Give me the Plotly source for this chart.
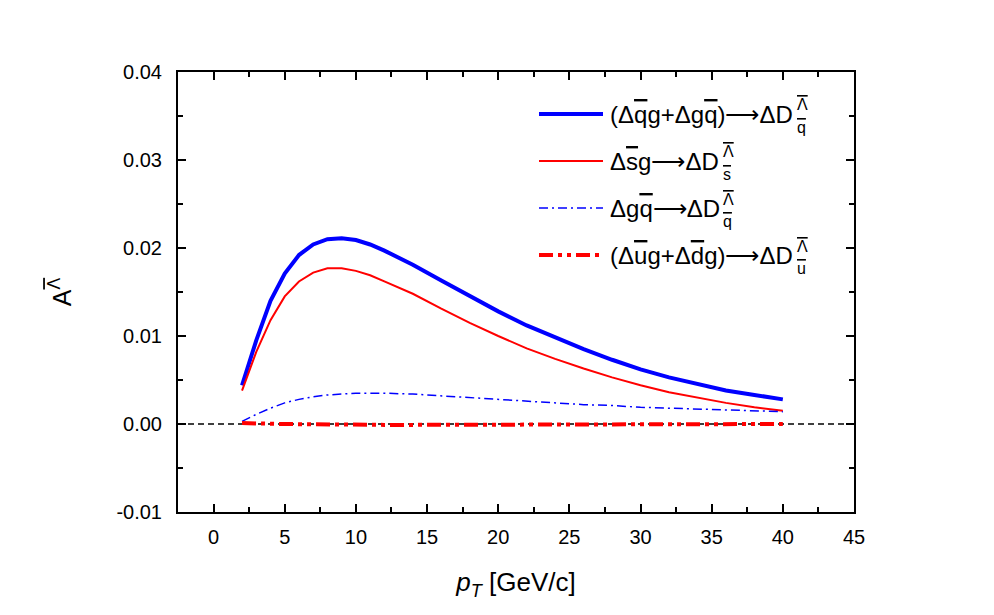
import plotly.graph_objects as go

pt = [2, 3, 4, 5, 6, 7, 8, 9, 10, 11, 12, 14, 16, 18, 20, 22, 24, 26, 28, 30, 32, 34, 36, 38, 40]
total_qg = [0.0044, 0.0095, 0.0140, 0.0171, 0.0192, 0.0204, 0.0210, 0.0211, 0.0209, 0.0204, 0.0197,
            0.0181, 0.0163, 0.0145, 0.0128, 0.0112, 0.0098, 0.0085, 0.0073, 0.0062, 0.0053, 0.0045,
            0.0038, 0.0033, 0.0028]
sbar_g = [0.0038, 0.0082, 0.0118, 0.0145, 0.0162, 0.0172, 0.0177, 0.0177, 0.0174, 0.0169, 0.0162,
          0.0148, 0.0131, 0.0115, 0.0100, 0.0086, 0.0074, 0.0063, 0.0053, 0.0044, 0.0036, 0.0030,
          0.0024, 0.0019, 0.0015]
g_qbar = [0.0003, 0.0011, 0.0018, 0.0024, 0.0028, 0.0031, 0.0033, 0.0034, 0.0035, 0.0035, 0.0035,
          0.0034, 0.0032, 0.0030, 0.0028, 0.0026, 0.0024, 0.0022, 0.0021, 0.0019, 0.0018, 0.0017,
          0.0016, 0.0015, 0.0014]
ud_g = [0.0001, 0.0001, 0.00005, 0.0, -0.00002, -0.00005, -0.00008, -0.0001, -0.0001, -0.0001, -0.0001,
        -0.0001, -0.0001, -0.00009, -0.00008, -0.00007, -0.00005, -0.00004, -0.00003, -0.00002, -0.00001,
        0.0, 0.0, 0.0, 0.0]

y_ticks = [-0.01, 0.0, 0.01, 0.02, 0.03, 0.04]
y_ticktext = ["-0.01", "0.00", "0.01", "0.02", "0.03", "0.04"]
x_ticks = [0, 5, 10, 15, 20, 25, 30, 35, 40, 45]

OL = lambda s: '<span style="text-decoration:overline">' + s + '</span>'
ARROW = "⟶"

series = [
    (total_qg, "#0000ff", 4, "solid"),
    (sbar_g, "#ff0000", 2, "solid"),
    (g_qbar, "#0000ff", 1.5, "9px,4px,2px,4px"),
    (ud_g, "#ff0000", 4, "14px,5px,4px,5px,4px,5px"),
]

fig = go.Figure()
for ys, col, w, dash in series:
    fig.add_trace(go.Scatter(x=pt, y=ys, mode="lines", line=dict(color=col, width=w, dash=dash),
                             showlegend=False, hoverinfo="skip"))

# zero line
fig.add_shape(type="line", xref="paper", yref="y", x0=0, x1=1, y0=0, y1=0,
              line=dict(color="black", width=1.3, dash="6px,4px"), layer="below")

FONT = "Liberation Sans, Arial, sans-serif"

# custom legend
legend_rows = [
    ("(Δ" + OL("q") + "g+Δg" + OL("q") + ")" + ARROW + "ΔD", OL("Λ"), OL("q")),
    ("Δ" + OL("s") + "g" + ARROW + "ΔD", OL("Λ"), OL("s")),
    ("Δg" + OL("q") + ARROW + "ΔD", OL("Λ"), OL("q")),
    ("(Δ" + OL("u") + "g+Δ" + OL("d") + "g)" + ARROW + "ΔD", OL("Λ"), OL("u")),
]
row_y_px = [114, 161, 208, 255]
stack_x_px = [795, 721, 721, 795]
L, T, W, H = 178, 72, 676, 440
px2x = lambda px: (px - L) / W
py2y = lambda py: (T + H - py) / H
for (txt, sup, sub), ry, sx, (ys, col, w, dash) in zip(legend_rows, row_y_px, stack_x_px, series):
    fig.add_shape(type="line", xref="paper", yref="paper", x0=px2x(539), x1=px2x(603),
                  y0=py2y(ry), y1=py2y(ry), line=dict(color=col, width=w, dash=dash))
    fig.add_annotation(xref="paper", yref="paper", x=px2x(608), y=py2y(ry), text=txt,
                       showarrow=False, xanchor="left", yanchor="middle",
                       font=dict(family=FONT, size=24, color="black"))
    fig.add_annotation(xref="paper", yref="paper", x=px2x(sx), y=py2y(ry - 9), text=sup,
                       showarrow=False, xanchor="left", yanchor="middle",
                       font=dict(family=FONT, size=16, color="black"))
    fig.add_annotation(xref="paper", yref="paper", x=px2x(sx), y=py2y(ry + 13), text=sub,
                       showarrow=False, xanchor="left", yanchor="middle",
                       font=dict(family=FONT, size=16, color="black"))

axis_common = dict(showline=True, linecolor="black", linewidth=2, mirror="ticks", ticks="inside",
                   ticklen=8, tickwidth=2, tickcolor="black", showgrid=False, zeroline=False,
                   tickfont=dict(family=FONT, size=20, color="black"))

fig.update_xaxes(range=[-2.5, 45], tickvals=x_ticks,
                 minor=dict(ticks="inside", ticklen=5, tickwidth=2, tickcolor="black", dtick=2.5, tick0=0),
                 title=dict(text="<i>p</i><sub><i>T</i></sub> [GeV/c]", font=dict(family=FONT, size=26),
                            standoff=26),
                 ticklabelstandoff=6,
                 **axis_common)
fig.update_yaxes(range=[-0.01, 0.04], tickvals=y_ticks, ticktext=y_ticktext,
                 minor=dict(ticks="inside", ticklen=5, tickwidth=2, tickcolor="black", dtick=0.005, tick0=0),
                 title=dict(text="A<sup>" + OL("Λ") + "</sup>", font=dict(family=FONT, size=25),
                            standoff=38),
                 ticklabelstandoff=10,
                 **axis_common)

fig.update_layout(width=994, height=615, margin=dict(l=L, r=994 - L - W, t=T, b=615 - T - H),
                  plot_bgcolor="white", paper_bgcolor="white", font=dict(family=FONT, color="black"))

fig.write_html("out.html")
